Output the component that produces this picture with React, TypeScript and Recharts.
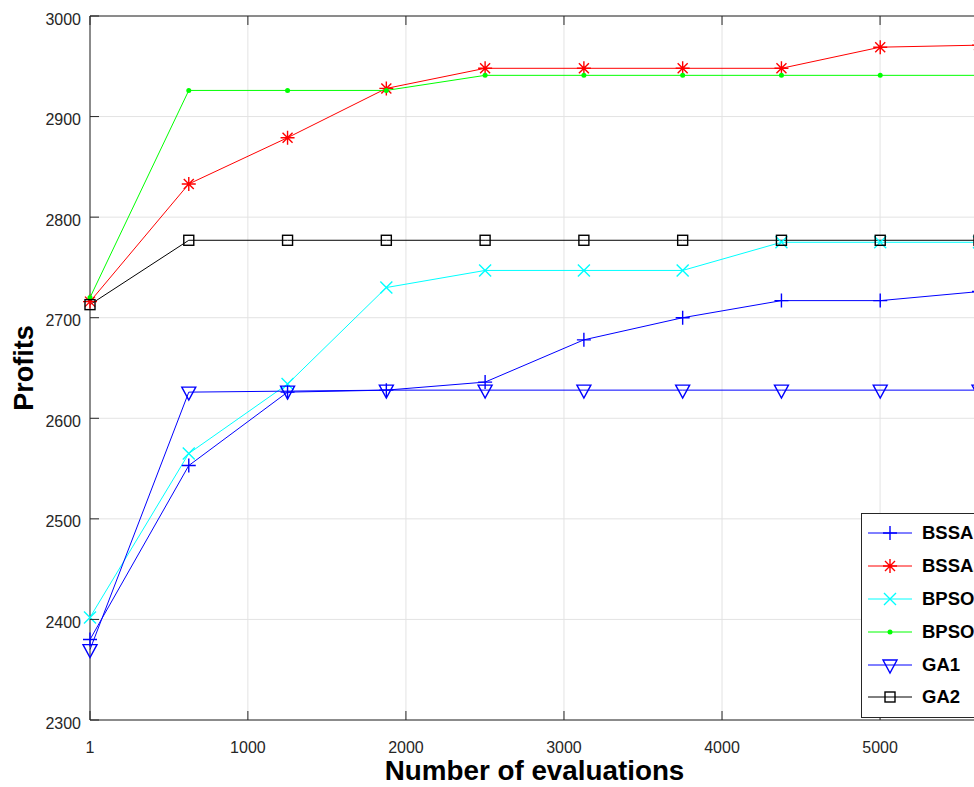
import { LineChart, Line, XAxis, YAxis, CartesianGrid, Legend } from 'recharts';

const evaluations = [1, 626, 1251, 1876, 2501, 3126, 3751, 4376, 5001, 5626];
const bssa1 = [2380, 2553, 2626, 2628, 2636, 2678, 2700, 2717, 2717, 2726];
const bssa2 = [2716, 2833, 2879, 2928, 2948, 2948, 2948, 2948, 2969, 2971];
const bpso1 = [2402, 2565, 2634, 2730, 2747, 2747, 2747, 2775, 2775, 2775];
const bpso2 = [2720, 2926, 2926, 2926, 2941, 2941, 2941, 2941, 2941, 2941];
const ga1 = [2370, 2626, 2627, 2628, 2628, 2628, 2628, 2628, 2628, 2628];
const ga2 = [2713, 2777, 2777, 2777, 2777, 2777, 2777, 2777, 2777, 2777];

const xTicks = [1, 1000, 2000, 3000, 4000, 5000];
const yTicks = [2300, 2400, 2500, 2600, 2700, 2800, 2900, 3000];

const series = [
    { key: 'bssa1', name: 'BSSA1', color: '#0000ff', marker: 'plus' },
    { key: 'bssa2', name: 'BSSA2', color: '#ff0000', marker: 'star' },
    { key: 'bpso1', name: 'BPSO1', color: '#00ffff', marker: 'cross' },
    { key: 'bpso2', name: 'BPSO2', color: '#00ff00', marker: 'dot' },
    { key: 'ga1', name: 'GA1', color: '#0000ff', marker: 'tri' },
    { key: 'ga2', name: 'GA2', color: '#000000', marker: 'square' },
];

const data = evaluations.map((e, i) => ({
    evals: e,
    bssa1: bssa1[i],
    bssa2: bssa2[i],
    bpso1: bpso1[i],
    bpso2: bpso2[i],
    ga1: ga1[i],
    ga2: ga2[i],
}));

const FONT = '"Liberation Sans", Arial, Helvetica, sans-serif';
const AXIS = '#262626';

function Marker({ kind, cx, cy, color }: { kind: string; cx: number; cy: number; color: string }) {
    const sw = 1.4;
    switch (kind) {
        case 'plus':
            return <path d={`M${cx - 7},${cy}H${cx + 7}M${cx},${cy - 7}V${cy + 7}`} stroke={color} strokeWidth={sw} fill="none" />;
        case 'star':
            return (
                <path
                    d={`M${cx - 7},${cy}H${cx + 7}M${cx},${cy - 7}V${cy + 7}M${cx - 5},${cy - 5}L${cx + 5},${cy + 5}M${cx - 5},${cy + 5}L${cx + 5},${cy - 5}`}
                    stroke={color}
                    strokeWidth={sw}
                    fill="none"
                />
            );
        case 'cross':
            return <path d={`M${cx - 6},${cy - 6}L${cx + 6},${cy + 6}M${cx - 6},${cy + 6}L${cx + 6},${cy - 6}`} stroke={color} strokeWidth={sw} fill="none" />;
        case 'dot':
            return <circle cx={cx} cy={cy} r={2.5} fill={color} />;
        case 'tri':
            return <path d={`M${cx - 7},${cy - 5}H${cx + 7}L${cx},${cy + 8}Z`} stroke={color} strokeWidth={sw} fill="none" />;
        case 'square':
            return <rect x={cx - 5} y={cy - 5} width={10} height={10} stroke={color} strokeWidth={sw} fill="none" />;
        default:
            return null;
    }
}

const BottomTick = ({ x, y, payload }: any) => (
    <g>
        <line x1={x} y1={y} x2={x} y2={y - 9} stroke={AXIS} />
        <text x={x} y={y + 33} textAnchor="middle" fontSize={16} fill={AXIS} fontFamily={FONT}>
            {payload.value}
        </text>
    </g>
);

const TopTick = ({ x, y }: any) => <line x1={x} y1={y} x2={x} y2={y + 9} stroke={AXIS} />;

const LeftTick = ({ x, y, payload }: any) => (
    <g>
        <line x1={x} y1={y} x2={x + 9} y2={y} stroke={AXIS} />
        <text x={x - 9} y={y + 8.5} textAnchor="end" fontSize={16} fill={AXIS} fontFamily={FONT}>
            {payload.value}
        </text>
    </g>
);

const RightTick = ({ x, y }: any) => <line x1={x} y1={y} x2={x - 9} y2={y} stroke={AXIS} />;

const LegendBox = () => (
    <div
        style={{
            border: '1px solid #262626',
            background: '#fff',
            width: 140,
            height: 205,
            boxSizing: 'border-box',
            paddingTop: 3,
            fontFamily: FONT,
        }}
    >
        {series.map((s) => (
            <div key={s.key} style={{ display: 'flex', alignItems: 'center', height: 32.8 }}>
                <svg width={60} height={20} style={{ display: 'block' }}>
                    <line x1={6} y1={10} x2={50} y2={10} stroke={s.color} strokeWidth={1} />
                    <Marker kind={s.marker} cx={28} cy={10} color={s.color} />
                </svg>
                <span style={{ fontSize: 18.5, fontWeight: 'bold', color: '#000' }}>{s.name}</span>
            </div>
        ))}
    </div>
);

export default function App() {
    return (
        <div style={{ position: 'absolute', left: 0, top: 0, width: 974, height: 787, overflow: 'hidden', background: '#fff' }}>
            <LineChart width={1010} height={787} data={data} margin={{ top: 15, right: 30, left: 0, bottom: 0 }}>
                <CartesianGrid stroke="#e3e3e3" />
                <XAxis
                    dataKey="evals"
                    type="number"
                    domain={[1, 5626]}
                    ticks={xTicks}
                    interval={0}
                    height={67}
                    tickSize={0}
                    tickMargin={0}
                    tickLine={false}
                    tick={<BottomTick />}
                    stroke={AXIS}
                    label={{
                        value: 'Number of evaluations',
                        position: 'insideBottom',
                        offset: 7,
                        style: { fontSize: 27.8, fontWeight: 'bold', fill: '#000', fontFamily: FONT },
                    }}
                />
                <XAxis
                    xAxisId="top"
                    orientation="top"
                    dataKey="evals"
                    type="number"
                    domain={[1, 5626]}
                    ticks={xTicks}
                    interval={0}
                    height={1}
                    tickSize={0}
                    tickMargin={0}
                    tickLine={false}
                    tick={<TopTick />}
                    stroke={AXIS}
                />
                <YAxis
                    type="number"
                    domain={[2300, 3000]}
                    ticks={yTicks}
                    interval={0}
                    width={90}
                    tickSize={0}
                    tickMargin={0}
                    tickLine={false}
                    tick={<LeftTick />}
                    stroke={AXIS}
                    label={{
                        value: 'Profits',
                        angle: -90,
                        position: 'insideLeft',
                        offset: 23,
                        style: { fontSize: 27, fontWeight: 'bold', fill: '#000', fontFamily: FONT, textAnchor: 'middle' },
                    }}
                />
                <YAxis
                    yAxisId="right"
                    orientation="right"
                    type="number"
                    domain={[2300, 3000]}
                    ticks={yTicks}
                    interval={0}
                    width={1}
                    tickSize={0}
                    tickMargin={0}
                    tickLine={false}
                    tick={<RightTick />}
                    stroke={AXIS}
                />
                {series.map((s) => (
                    <Line
                        key={s.key}
                        type="linear"
                        dataKey={s.key}
                        name={s.name}
                        stroke={s.color}
                        strokeWidth={1}
                        isAnimationActive={false}
                        activeDot={false}
                        dot={(p: any) => <Marker key={`${s.key}-${p.index}`} kind={s.marker} cx={p.cx} cy={p.cy} color={s.color} />}
                    />
                ))}
                <Legend
                    layout="vertical"
                    align="center"
                    verticalAlign="middle"
                    content={<LegendBox />}
                    wrapperStyle={{ position: 'absolute', left: 861, top: 513, width: 140, right: 'auto', bottom: 'auto', margin: 0 }}
                />
            </LineChart>
        </div>
    );
}
